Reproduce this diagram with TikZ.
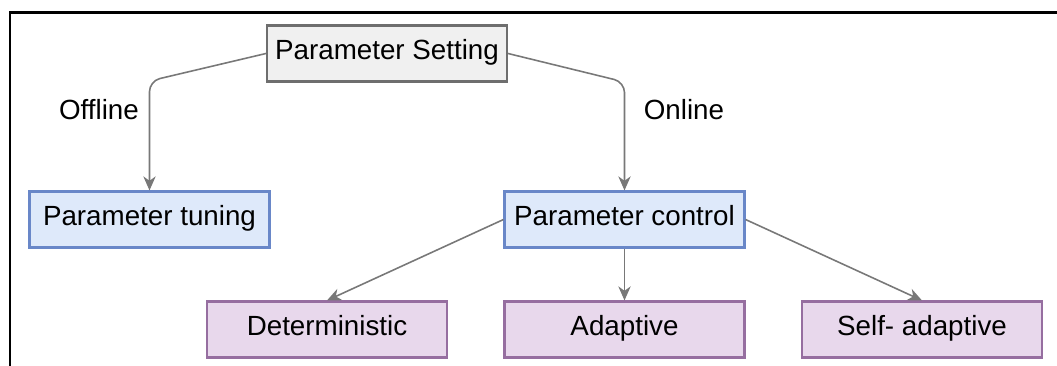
\documentclass[tikz,border=0pt]{standalone}
\usepackage{fontspec}
\setmainfont{Liberation Sans}
\usepackage{tikz}
\usetikzlibrary{arrows.meta}

\definecolor{psfill}{RGB}{240,240,240}
\definecolor{psdraw}{RGB}{110,110,110}
\definecolor{bluefill}{RGB}{222,233,250}
\definecolor{bluedraw}{RGB}{105,135,200}
\definecolor{violetfill}{RGB}{232,216,236}
\definecolor{violetdraw}{RGB}{150,110,160}
\definecolor{linkgray}{RGB}{120,120,120}

\begin{document}
\begin{tikzpicture}[
        x=0.02cm, y=-0.02cm, % 1 unidad = 1 pixel de la figura
        font=\fontsize{15.8}{19}\selectfont, % Fuente de las etiquetas
        box/.style={draw, line width=1.2pt, minimum width=4.8cm, minimum height=1.12cm, inner sep=0pt, text height=0.9em, text depth=0.18em}, % Estilo base de las cajas
        topbox/.style={box, fill=psfill, draw=psdraw}, % Caja superior
        bluebox/.style={box, fill=bluefill, draw=bluedraw}, % Cajas azules
        violetbox/.style={box, fill=violetfill, draw=violetdraw}, % Cajas moradas
        link/.style={-{Stealth[length=8pt, width=7pt, inset=2.5pt]}, linkgray, line width=0.9pt} % Estilo para las flechas
    ]
        % --- Marco de la figura ---
        \useasboundingbox (0,0) rectangle (1057,365);
        \draw[line width=1.2pt] (1060,12.5) -- (10,12.5) -- (10,368);

        % --- Cajas ---
        \node[topbox] (setting) at (387,53.5) {Parameter Setting};
        \node[bluebox] (tuning) at (149.5,219.5) {Parameter tuning};
        \node[bluebox] (control) at (624.5,219.5) {Parameter control};
        \node[violetbox] (determ) at (327,329.5) {Deterministic};
        \node[violetbox] (adapt) at (624.5,329.5) {Adaptive};
        \node[violetbox] (selfadapt) at (922,329.5) {Self- adaptive};

        % --- Etiquetas de las ramas ---
        \node (offline) at (99,110) {Offline};
        \node (online) at (684,110) {Online};

        % --- Flechas ---
        \draw[link, rounded corners=6pt] (setting.west) -- (tuning.north |- 0,81) -- (tuning.north);
        \draw[link, rounded corners=6pt] (setting.east) -- (control.north |- 0,82) -- (control.north);
        \draw[link] (control.west) -- (determ.north);
        \draw[link] (control.south) -- (adapt.north);
        \draw[link] (control.east) -- (selfadapt.north);

    \end{tikzpicture}
\end{document}
